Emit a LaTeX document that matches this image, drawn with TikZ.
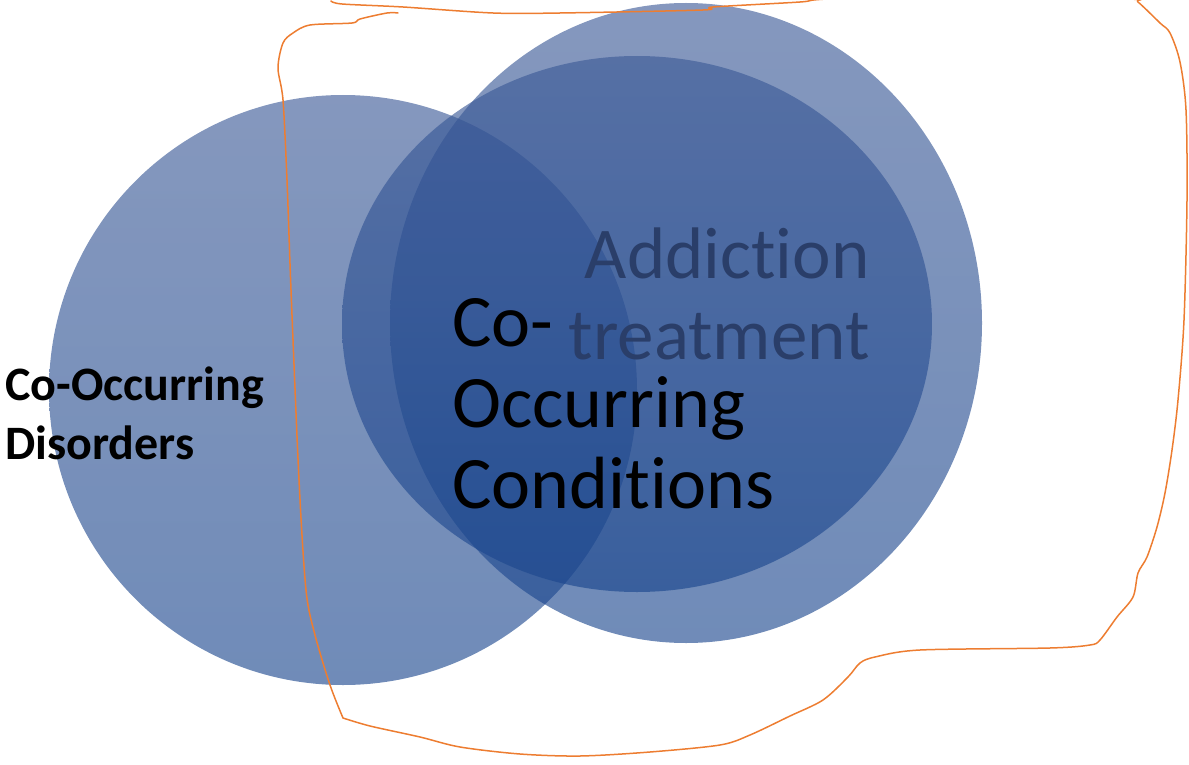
\documentclass[tikz,border=0pt]{standalone}
\usepackage{fontspec}
\setmainfont{Carlito}[Ligatures={NoCommon,NoRequired,NoContextual}]
\usepackage{tikz}
\definecolor{vennTop}{RGB}{59,89,150}
\definecolor{vennBot}{RGB}{25,69,141}
\definecolor{addText}{RGB}{42,62,105}
\definecolor{penOrange}{RGB}{237,125,49}

\begin{document}
\begin{tikzpicture}[x=0.5pt,y=-0.5pt,
  venn/.style={top color=vennTop, bottom color=vennBot, fill opacity=0.625},
  scribble/.style={draw=penOrange, line width=0.75pt, line cap=round, line join=round}]
\useasboundingbox (0,0) rectangle (1189,765);
\clip (0,0) rectangle (1189,765);
%
\shade[venn] (343,390) ellipse [x radius=294, y radius=295];
\shade[venn] (686,323) ellipse [x radius=296, y radius=320];
\shade[venn] (637,324) ellipse [x radius=295, y radius=268];
%
\node(cod)[anchor=north west, inner sep=0, align=left, font=\bfseries\fontsize{24}{29.5}\selectfont] at (5,366) {Co-Occurring\\Disorders};
\node(coc)[anchor=north west, inner sep=0, align=left, font=\fontsize{37}{40.5}\selectfont] at (452,298) {Co-\\Occurring\\Conditions};
\node(add)[anchor=north east, inner sep=0, align=right, text=addText, font=\fontsize{36.5}{40.5}\selectfont] at (870,227) {Addiction\\treatment};
%
\draw[scribble] plot[smooth, tension=0.5] coordinates {(331,1) (342,4) (403,7) (493,13) (560,13) (703,10) (713,7) (800,2) (827,-1) (980,-8) (1130,-1) (1138,2) (1160,23) (1170,33) (1180,62) (1186,110) (1187,200) (1184,320) (1178,400) (1172,450) (1165,493) (1157,527) (1147,557) (1138,573) (1133,597) (1117,617) (1100,640) (1090,645) (1050,648) (920,650) (875,657) (860,663) (848,677) (823,700) (790,716) (750,735) (720,745) (650,752) (580,756) (520,754) (460,747) (420,737) (370,726) (343,718)};
\draw[scribble] plot[smooth, tension=0.5] coordinates {(343,718) (330,685) (315,635) (306,590) (299,480) (291,290) (287,180) (283,100) (278,68) (283,43) (293,33) (310,25) (352,23) (360,19) (387,13) (398,13)};
\end{tikzpicture}
\end{document}
